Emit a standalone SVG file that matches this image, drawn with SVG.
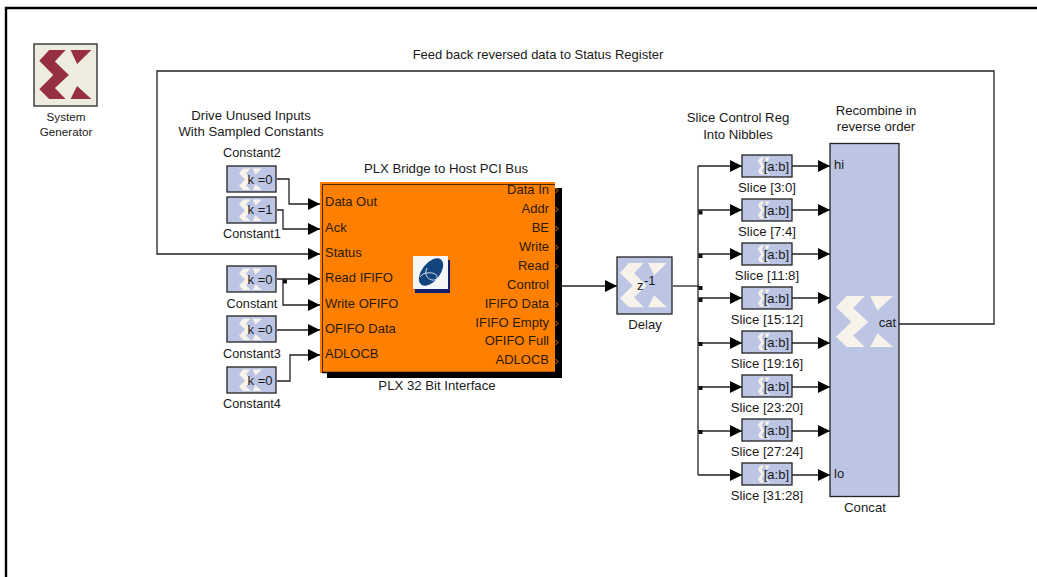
<svg xmlns="http://www.w3.org/2000/svg" width="1037" height="577" viewBox="0 0 1037 577">
<style>
text{font-family:"Liberation Sans",Arial,sans-serif;font-size:13.2px;fill:#1a1a1a}
.m{text-anchor:middle}
.e{text-anchor:end}
.l{font-size:12.7px}
.v{font-size:13px}
.w{fill:none;stroke:#222;stroke-width:1.3}
.b{fill:#bcc6e4;stroke:#222;stroke-width:1.3}
.x{fill:#f7f3ea}
text.p{font-size:13px;fill:#2a1a00}
</style>
<defs>
<marker id="a" markerUnits="userSpaceOnUse" markerWidth="12" markerHeight="12" refX="12" refY="6" orient="auto"><path d="M0 0L12 6L0 12Z" fill="#000"/></marker>
<g id="xs"><path d="M3.600 0H9.600L5.700 4.200 10.800 9.100 5.700 13.900 9.600 17.900H3.600L0 14.300 5.100 9.100 0 3.900Z"/><path d="M11.400 0H19L13.800 5.100ZM13.800 13.100 19 17.900H11.400Z"/></g>
<path id="dot" d="M-2-2h4v4h-4z" fill="#111"/>
<g id="k"><rect class="b" x="0" y="0" width="49" height="26"/><use href="#xs" transform="translate(12 2.500) scale(1.200)" class="x"/></g>
<g id="s"><rect class="b" x="0" y="0" width="50" height="22"/><use href="#xs" transform="translate(16 2.500) scale(.62 .95)" class="x"/><text x="47" y="15.500" class="e v">[a:b]</text></g>
</defs>
<rect width="1037" height="577" fill="#fff"/>
<path d="M6 577V8H1037" fill="none" stroke="#000" stroke-width="2.400"/>

<g id="system-generator"><rect x="34" y="44" width="63" height="62" fill="#eeecdf" stroke="#333" stroke-width="1.400"/><use href="#xs" transform="translate(39.300 50) scale(2.740)" fill="#963040"/><text x="66" y="121" class="m" style="font-size:11.700px">System</text><text x="66" y="136" class="m" style="font-size:11.700px">Generator</text></g>

<text x="251" y="120" class="m">Drive Unused Inputs</text>
<text x="251" y="136" class="m">With Sampled Constants</text>
<text x="538" y="59" class="m v">Feed back reversed data to Status Register</text>

<g id="connectors">
<path class="w" d="M277 179H289V204H320" marker-end="url(#a)"/>
<path class="w" d="M277 210H283V229H320" marker-end="url(#a)"/>
<path class="w" d="M899 324H994V71H157V254H320" marker-end="url(#a)"/>
<path class="w" d="M277 279H320" marker-end="url(#a)"/>
<path class="w" d="M283 279V305H320" marker-end="url(#a)"/>
<use href="#dot" x="285" y="281.500"/>
<path class="w" d="M277 330H320" marker-end="url(#a)"/>
<path class="w" d="M277 381H290V355H320" marker-end="url(#a)"/>
<path class="w" d="M553 286H617" marker-end="url(#a)"/>
<path class="w" d="M673 286H699"/>
<path class="w" d="M698 166V475"/>
<path class="w" d="M698 166H742" marker-end="url(#a)"/>
<path class="w" d="M698 210H742" marker-end="url(#a)"/>
<path class="w" d="M698 254H742" marker-end="url(#a)"/>
<path class="w" d="M698 298H742" marker-end="url(#a)"/>
<path class="w" d="M698 343H742" marker-end="url(#a)"/>
<path class="w" d="M698 387H742" marker-end="url(#a)"/>
<path class="w" d="M698 431H742" marker-end="url(#a)"/>
<path class="w" d="M698 475H742" marker-end="url(#a)"/>
<path class="w" d="M792 166H830" marker-end="url(#a)"/>
<path class="w" d="M792 210H830" marker-end="url(#a)"/>
<path class="w" d="M792 254H830" marker-end="url(#a)"/>
<path class="w" d="M792 298H830" marker-end="url(#a)"/>
<path class="w" d="M792 343H830" marker-end="url(#a)"/>
<path class="w" d="M792 387H830" marker-end="url(#a)"/>
<path class="w" d="M792 431H830" marker-end="url(#a)"/>
<path class="w" d="M792 475H830" marker-end="url(#a)"/>
<use href="#dot" x="700.500" y="212.500"/><use href="#dot" x="700.500" y="256"/><use href="#dot" x="700.500" y="288"/><use href="#dot" x="700.500" y="300"/><use href="#dot" x="700.500" y="344"/><use href="#dot" x="700.500" y="388"/><use href="#dot" x="700.500" y="432"/>
</g>

<g id="constant2"><use href="#k" x="227" y="166"/><text x="252" y="157" class="m l">Constant2</text><text x="272.500" y="183.500" class="e v">k =0</text></g>
<g id="constant1"><use href="#k" x="227" y="197"/><text x="252" y="238" class="m l">Constant1</text><text x="272.500" y="214" class="e v">k =1</text></g>
<g id="constant"><use href="#k" x="227" y="266"/><text x="252" y="308" class="m l">Constant</text><text x="272.500" y="283.500" class="e v">k =0</text></g>
<g id="constant3"><use href="#k" x="227" y="316"/><text x="252" y="358" class="m l">Constant3</text><text x="272.500" y="333.500" class="e v">k =0</text></g>
<g id="constant4"><use href="#k" x="227" y="367"/><text x="252" y="408" class="m l">Constant4</text><text x="272.500" y="384.500" class="e v">k =0</text></g>

<g id="plx">
<text x="446" y="173" class="m">PLX Bridge to Host PCI Bus</text>
<text x="437" y="390" class="m">PLX 32 Bit Interface</text>
<rect x="327" y="188" width="235" height="190" fill="#000"/>
<rect x="320" y="182" width="235" height="191" fill="#ff8000"/>
<path d="M322.500 372V184.500H555" fill="none" stroke="#4a2800" stroke-width="1"/>
<path d="M322 372.500H555" stroke="#000" stroke-width="1.500"/>
<text class="p" x="325" y="206">Data Out</text><text class="p" x="325" y="232">Ack</text><text class="p" x="325" y="257">Status</text><text class="p" x="325" y="282">Read IFIFO</text><text class="p" x="325" y="308">Write OFIFO</text><text class="p" x="325" y="333">OFIFO Data</text><text class="p" x="325" y="358">ADLOCB</text>
<text class="p e" x="549" y="194">Data In</text><text class="p e" x="549" y="213">Addr</text><text class="p e" x="549" y="232">BE</text><text class="p e" x="549" y="251">Write</text><text class="p e" x="549" y="270">Read</text><text class="p e" x="549" y="289">Control</text><text class="p e" x="549" y="308">IFIFO Data</text><text class="p e" x="549" y="327">IFIFO Empty</text><text class="p e" x="549" y="345">OFIFO Full</text><text class="p e" x="549" y="364">ADLOCB</text>
<rect x="415" y="260" width="35" height="33" fill="#14206e"/><rect x="413" y="256" width="35" height="33" fill="#f4f6f8"/><ellipse cx="431" cy="272" rx="16" ry="9" transform="rotate(-52 431 272)" fill="#14447e"/><path d="M420 277c3-5 11-5 15-3s2 7-3 6-8-6-5-12" fill="none" stroke="#cfe0ee"/>
<path d="M555.500 188l2.500 2.500-2.500 2.500M555.500 207l2.500 2.500-2.500 2.500M555.500 226l2.500 2.500-2.500 2.500M555.500 245l2.500 2.500-2.500 2.500M555.500 264l2.500 2.500-2.500 2.500M555.500 302l2.500 2.500-2.500 2.500M555.500 321l2.500 2.500-2.500 2.500M555.500 340l2.500 2.500-2.500 2.500M555.500 359l2.500 2.500-2.500 2.500" fill="none" stroke="#ff8000"/>
</g>

<g id="delay"><rect class="b" x="617" y="257" width="55" height="57"/><use href="#xs" transform="translate(620 263) scale(2.470)" class="x"/><text x="637" y="290" class="v">z</text><text x="644" y="285" class="v">-1</text><text x="645" y="329" class="m">Delay</text></g>

<g id="slice-3-0"><use href="#s" x="742" y="155"/><text x="767" y="192" class="m">Slice [3:0]</text></g>
<g id="slice-7-4"><use href="#s" x="742" y="199"/><text x="767" y="236" class="m">Slice [7:4]</text></g>
<g id="slice-11-8"><use href="#s" x="742" y="243"/><text x="767" y="280" class="m">Slice [11:8]</text></g>
<g id="slice-15-12"><use href="#s" x="742" y="287"/><text x="767" y="324" class="m">Slice [15:12]</text></g>
<g id="slice-19-16"><use href="#s" x="742" y="331"/><text x="767" y="368" class="m">Slice [19:16]</text></g>
<g id="slice-23-20"><use href="#s" x="742" y="375"/><text x="767" y="412" class="m">Slice [23:20]</text></g>
<g id="slice-27-24"><use href="#s" x="742" y="419"/><text x="767" y="456" class="m">Slice [27:24]</text></g>
<g id="slice-31-28"><use href="#s" x="742" y="463"/><text x="767" y="500" class="m">Slice [31:28]</text></g>

<text x="738" y="122" class="m">Slice Control Reg</text><text x="738" y="139" class="m">Into Nibbles</text>
<text x="876" y="115" class="m">Recombine in</text><text x="876" y="131" class="m">reverse order</text>

<g id="concat"><rect class="b" x="830" y="143.500" width="69" height="353"/><use href="#xs" transform="translate(836 296) scale(3 2.850)" class="x"/><text x="834" y="169" class="v">hi</text><text x="834" y="478" class="v">lo</text><text x="896" y="327" class="e v">cat</text><text x="865" y="512" class="m">Concat</text></g>
</svg>
